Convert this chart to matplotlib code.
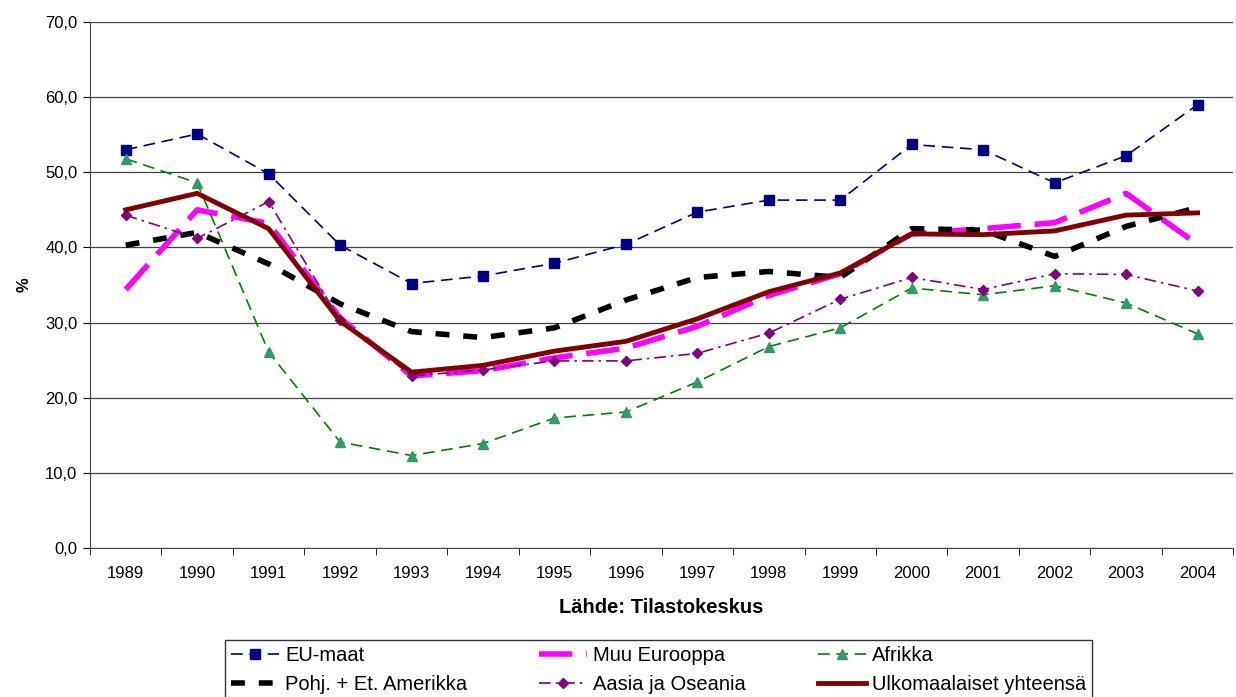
import numpy as np
import matplotlib.pyplot as plt

plt.rcParams['font.family'] = ['Liberation Sans', 'DejaVu Sans']

years = [str(y) for y in range(1989, 2005)]
eu_maat = [53.0, 55.1, 49.8, 40.3, 35.2, 36.2, 37.9, 40.4, 44.7, 46.3, 46.3, 53.7, 53.0, 48.6, 52.2, 59.0]
muu_eurooppa = [34.4, 45.0, 43.2, 30.6, 22.9, 23.6, 25.3, 26.6, 29.5, 33.6, 36.5, 41.8, 42.5, 43.3, 47.2, 40.4]
afrikka = [51.8, 48.6, 26.1, 14.1, 12.3, 13.9, 17.3, 18.1, 22.1, 26.8, 29.3, 34.6, 33.7, 34.9, 32.6, 28.5]
pohj_amerikka = [40.3, 42.0, 37.8, 32.5, 28.8, 28.0, 29.3, 33.0, 36.0, 36.8, 36.0, 42.5, 42.3, 38.8, 42.8, 45.3]
aasia_oseania = [44.3, 41.2, 46.1, 30.3, 22.9, 23.7, 24.9, 24.9, 25.9, 28.6, 33.1, 36.0, 34.4, 36.5, 36.4, 34.2]
yhteensa = [45.0, 47.2, 42.5, 30.2, 23.4, 24.3, 26.2, 27.5, 30.5, 34.1, 36.6, 41.8, 41.7, 42.2, 44.3, 44.6]

x = np.arange(len(years))

fig = plt.figure(figsize=(12.36, 6.97), dpi=100)
ax = fig.add_axes([0.0728, 0.2138, 0.925, 0.7546])

l_eu, = ax.plot(x, eu_maat, color='#000080', lw=1.2, ls=(0, (7, 4)),
                marker='s', ms=7, mfc='#000080', mec='#000080', label='EU-maat')
l_muu, = ax.plot(x, muu_eurooppa, color='#FF00FF', lw=4, ls=(0, (6, 2.5)),
                 label='Muu Eurooppa')
l_afr, = ax.plot(x, afrikka, color='#008000', lw=1.2, ls=(0, (7, 4)),
                 marker='^', ms=7, mfc='#339966', mec='#339966', label='Afrikka')
l_pohj, = ax.plot(x, pohj_amerikka, color='black', lw=4, ls=(0, (2.5, 2.5)),
                  label='Pohj. + Et. Amerikka')
l_aas, = ax.plot(x, aasia_oseania, color='#800080', lw=1.2, ls=(0, (7, 3, 1.5, 3)),
                 marker='D', ms=5, mfc='#800080', mec='#800080', label='Aasia ja Oseania')
l_tot, = ax.plot(x, yhteensa, color='#800000', lw=3.5, label='Ulkomaalaiset yhteensä')

ax.set_xlim(-0.5, len(years) - 0.5)
ax.set_ylim(0, 70)
ax.set_yticks(np.arange(0, 71, 10))
ax.yaxis.set_major_formatter(plt.FuncFormatter(lambda v, p: ('%.1f' % v).replace('.', ',')))
ax.set_xticks(x)
ax.set_xticklabels(years)
ax.set_xticks(np.arange(-0.5, len(years), 1), minor=True)
ax.tick_params(axis='x', which='major', length=0, pad=13, labelsize=12)
ax.tick_params(axis='x', which='minor', length=5, direction='out')
ax.tick_params(axis='y', length=5, direction='out', labelsize=12, pad=4)

ax.grid(axis='y', color='#444444', lw=0.9)
ax.set_axisbelow(True)
for s in ['top', 'right']:
    ax.spines[s].set_visible(False)
ax.spines['left'].set_color('#444444')
ax.spines['bottom'].set_color('#444444')

ax.set_xlabel('Lähde: Tilastokeskus', fontsize=14.5, fontweight='bold', labelpad=12)
ax.set_ylabel('%', fontsize=12, fontweight='bold', labelpad=10)

handles = [l_eu, l_pohj, l_muu, l_aas, l_afr, l_tot]
leg = fig.legend(handles=handles, labels=[h.get_label() for h in handles],
                 ncol=3, loc='upper left', bbox_to_anchor=(225 / 1236, 1 - 640 / 697),
                 fontsize=14.5, frameon=True, fancybox=False, edgecolor='black',
                 handlelength=2.4, columnspacing=3.55, labelspacing=0.5,
                 borderpad=0.3, borderaxespad=0, handletextpad=0.3)
leg.get_frame().set_linewidth(1.0)

fig.savefig('out.png', dpi=100)
